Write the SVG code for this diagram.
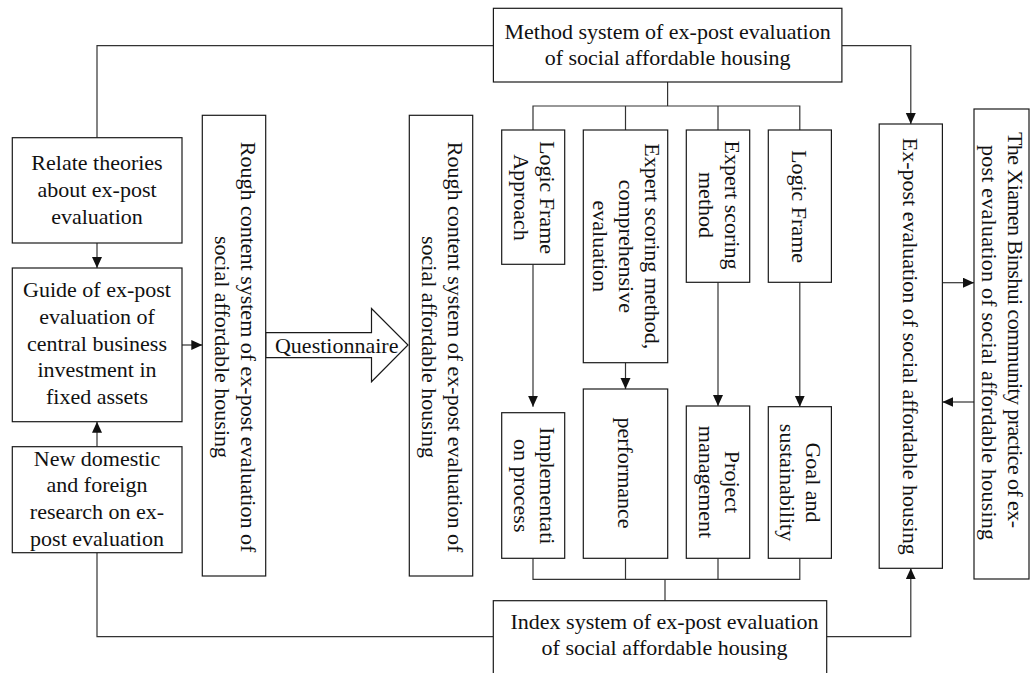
<svg xmlns="http://www.w3.org/2000/svg" width="1031" height="673" viewBox="0 0 1031 673">
  <style>
    .box { fill: #ffffff; stroke: #1a1a1a; stroke-width: 1.2; }
    .lbl { font-family: "Liberation Serif", "Times New Roman", serif; font-size: 22px; fill: #111111; text-anchor: middle; }
    .wire { fill: none; stroke: #333333; stroke-width: 1.2; }
    .arr { marker-end: url(#head); }
  </style>
  <defs>
    <marker id="head" markerUnits="userSpaceOnUse" markerWidth="12" markerHeight="11" refX="11" refY="5" orient="auto">
      <path d="M0,0 L11,5 L0,10 z" fill="#111111"/>
    </marker>
  </defs>
  <rect width="1031" height="673" fill="#ffffff"/>

  <!-- connectors -->
  <g id="connectors">
    <!-- method system to theory box and to ex-post evaluation -->
    <polyline class="wire" points="493.4,45.7 97,45.7 97,137.7"/>
    <polyline class="wire arr" points="841.9,45.7 910.8,45.7 910.8,124"/>
    <!-- left column -->
    <line class="wire arr" x1="97" y1="243" x2="97" y2="268"/>
    <line class="wire arr" x1="97" y1="446.7" x2="97" y2="421.7"/>
    <line class="wire arr" x1="182" y1="345" x2="202.3" y2="345"/>
    <polyline class="wire" points="97,552.7 97,636.7 493.3,636.7"/>
    <!-- index system to ex-post evaluation -->
    <polyline class="wire arr" points="826.7,636.7 910.8,636.7 910.8,568.3"/>
    <!-- ex-post evaluation and community practice -->
    <line class="wire arr" x1="942.4" y1="282.7" x2="974" y2="282.7"/>
    <line class="wire arr" x1="974" y1="402" x2="942.4" y2="402"/>
    <!-- method branches -->
    <polyline class="wire" points="667.6,82 667.6,106"/>
    <polyline class="wire" points="533,130 533,106 799.8,106 799.8,130"/>
    <line class="wire" x1="625.5" y1="106" x2="625.5" y2="130"/>
    <line class="wire" x1="718" y1="106" x2="718" y2="130"/>
    <!-- methods to indices -->
    <line class="wire arr" x1="533" y1="264.3" x2="533" y2="406.7"/>
    <line class="wire arr" x1="625.5" y1="362.7" x2="625.5" y2="389"/>
    <line class="wire arr" x1="718" y1="282.3" x2="718" y2="406"/>
    <line class="wire arr" x1="799.8" y1="282.3" x2="799.8" y2="406.7"/>
    <!-- indices merge into index system -->
    <polyline class="wire" points="533,558.3 533,579.3 799.8,579.3 799.8,558.3"/>
    <line class="wire" x1="625.5" y1="558.3" x2="625.5" y2="579.3"/>
    <line class="wire" x1="718" y1="558.3" x2="718" y2="579.3"/>
    <line class="wire" x1="665" y1="579.3" x2="665" y2="600.7"/>
  </g>

  <!-- Questionnaire block arrow -->
  <g id="questionnaire">
    <polygon class="box" points="265.7,332.7 371.5,332.7 371.5,308.5 408,345 371.5,381.7 371.5,357.7 265.7,357.7"/>
    <text class="lbl" x="336.7" y="353">Questionnaire</text>
  </g>

  <g id="method-system">
    <rect class="box" x="493.4" y="8.3" width="348.5" height="73.7"/>
    <text class="lbl"><tspan x="667.6" y="38.7">Method system of ex-post evaluation</tspan><tspan x="667.6" y="64.7">of social affordable housing</tspan></text>
  </g>

  <g id="relate-theories">
    <rect class="box" x="12.3" y="137.7" width="169.7" height="105.3"/>
    <text class="lbl"><tspan x="97" y="170">Relate theories</tspan><tspan x="97" y="197">about ex-post</tspan><tspan x="97" y="224">evaluation</tspan></text>
  </g>

  <g id="guide">
    <rect class="box" x="12.3" y="268" width="169.7" height="153.7"/>
    <text class="lbl"><tspan x="97" y="297">Guide of ex-post</tspan><tspan x="97" y="323.8">evaluation of</tspan><tspan x="97" y="350.6">central business</tspan><tspan x="97" y="377.4">investment in</tspan><tspan x="97" y="404.2">fixed assets</tspan></text>
  </g>

  <g id="new-research">
    <rect class="box" x="12.3" y="446.7" width="169.7" height="106"/>
    <text class="lbl"><tspan x="97" y="465.5">New domestic</tspan><tspan x="97" y="492.3">and foreign</tspan><tspan x="97" y="519.1">research on ex-</tspan><tspan x="97" y="545.9">post evaluation</tspan></text>
  </g>

  <g id="rough-content-1">
    <rect class="box" x="202.3" y="115.3" width="63.4" height="460.7"/>
    <text class="lbl" transform="translate(234,347) rotate(90)"><tspan x="0" y="-6.5">Rough content system of ex-post evaluation of</tspan><tspan x="0" y="19.5">social affordable housing</tspan></text>
  </g>

  <g id="rough-content-2">
    <rect class="box" x="409.3" y="115.3" width="63.4" height="460.7"/>
    <text class="lbl" transform="translate(441,347) rotate(90)"><tspan x="0" y="-6.5">Rough content system of ex-post evaluation of</tspan><tspan x="0" y="19.5">social affordable housing</tspan></text>
  </g>

  <g id="logic-frame-approach">
    <rect class="box" x="501.7" y="130" width="63" height="134.3"/>
    <text class="lbl" transform="translate(533.2,197.5) rotate(90)"><tspan x="0" y="-6.5">Logic Frame</tspan><tspan x="0" y="19.5">Approach</tspan></text>
  </g>

  <g id="expert-comprehensive">
    <rect class="box" x="583.3" y="130" width="84.4" height="232.7"/>
    <text class="lbl" transform="translate(625.5,246.3) rotate(90)"><tspan x="0" y="-19.5">Expert scoring method,</tspan><tspan x="0" y="6.5">comprehensive</tspan><tspan x="0" y="32.5">evaluation</tspan></text>
  </g>

  <g id="expert-scoring">
    <rect class="box" x="686.3" y="130" width="63.4" height="152.3"/>
    <text class="lbl" transform="translate(718,205) rotate(90)"><tspan x="0" y="-6.5">Expert scoring</tspan><tspan x="0" y="19.5">method</tspan></text>
  </g>

  <g id="logic-frame">
    <rect class="box" x="768.3" y="130" width="63.1" height="152.3"/>
    <text class="lbl" transform="translate(799.8,206.5) rotate(90)"><tspan x="0" y="7.5">Logic Frame</tspan></text>
  </g>

  <g id="implementation">
    <rect class="box" x="501.7" y="412.7" width="63" height="145.6"/>
    <text class="lbl" transform="translate(533.2,485.7) rotate(90)"><tspan x="0" y="-6.5">Implementati</tspan><tspan x="0" y="19.5">on process</tspan></text>
  </g>

  <g id="performance">
    <rect class="box" x="583.3" y="389" width="84.4" height="169.3"/>
    <text class="lbl" transform="translate(625.5,473) rotate(90)"><tspan x="0" y="8">performance</tspan></text>
  </g>

  <g id="project-management">
    <rect class="box" x="686.3" y="406" width="63.4" height="152.3"/>
    <text class="lbl" transform="translate(718,482) rotate(90)"><tspan x="0" y="-6.5">Project</tspan><tspan x="0" y="19.5">management</tspan></text>
  </g>

  <g id="goal-sustainability">
    <rect class="box" x="768.3" y="406.7" width="63.1" height="151.6"/>
    <text class="lbl" transform="translate(799.8,482.5) rotate(90)"><tspan x="0" y="-6.5">Goal and</tspan><tspan x="0" y="19.5">sustainability</tspan></text>
  </g>

  <g id="ex-post-evaluation">
    <rect class="box" x="879.2" y="124" width="63.2" height="444.3"/>
    <text class="lbl" transform="translate(910.8,346.2) rotate(90)"><tspan x="0" y="7.5">Ex-post evaluation of social affordable housing</tspan></text>
  </g>

  <g id="xiamen-practice">
    <rect class="box" x="974" y="109" width="55" height="470"/>
    <text class="lbl" transform="translate(1001.5,344) rotate(90)"><tspan x="-14" y="-6.5" textLength="396">The Xiamen Binshui community practice of ex-</tspan><tspan x="-1.5" y="19.5" textLength="395">post evaluation of social affordable housing</tspan></text>
  </g>

  <g id="index-system">
    <rect class="box" x="493.3" y="600.7" width="333.4" height="80"/>
    <text class="lbl"><tspan x="664.5" y="628.5">Index system of ex-post evaluation</tspan><tspan x="664.5" y="654.5">of social affordable housing</tspan></text>
  </g>
</svg>
